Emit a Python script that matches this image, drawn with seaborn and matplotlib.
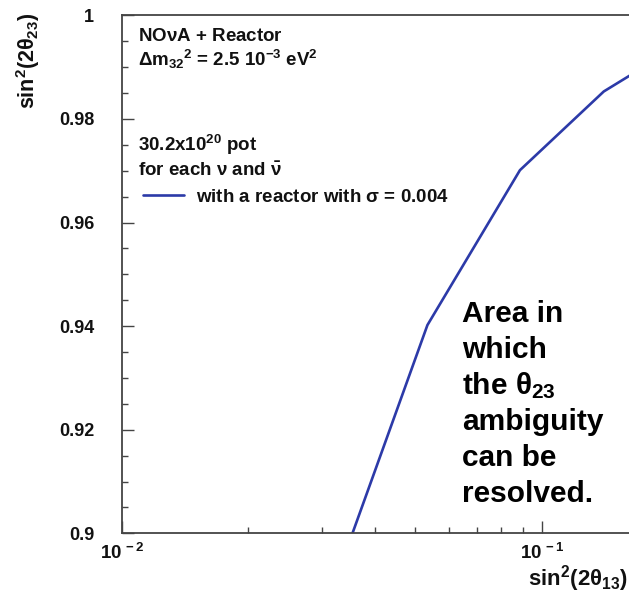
import pandas as pd
import seaborn as sns
import matplotlib
matplotlib.use('Agg')
import matplotlib.pyplot as plt
from matplotlib.ticker import MultipleLocator, LogLocator, NullFormatter

# values
sin2_2th13 = [0.0354, 0.0534, 0.0887, 0.1405, 0.163]
sin2_2th23 = [0.900, 0.9402, 0.9701, 0.9853, 0.9885]
y_ticks = [0.90, 0.92, 0.94, 0.96, 0.98, 1.00]
y_tick_labels = ['0.9', '0.92', '0.94', '0.96', '0.98', '1']
x_ticks = [0.01, 0.1]
x_tick_labels = ['$10^{\\,-2}$', '$10^{\\,-1}$']
info_lines = ['NO$\\nu$A + Reactor',
              '$\\Delta$m$_{32}$$^{2}$ = 2.5 10$^{-3}$ eV$^{2}$',
              '30.2x10$^{20}$ pot',
              'for each $\\nu$ and $\\bar{\\nu}$']
area_lines = ['Area in', 'which', 'the $\\theta_{23}$', 'ambiguity',
              'can be', 'resolved.']
legend_label = 'with a reactor with $\\sigma$ = 0.004'

W, H = 629, 595


def fx(px):
    """pixel x -> figure fraction"""
    return px / W


def fy(py):
    """pixel y (from top) -> figure fraction"""
    return 1 - py / H


sns.set_style('ticks')
plt.rcParams['font.family'] = ['Liberation Sans', 'DejaVu Sans']
plt.rcParams['font.weight'] = 'bold'
plt.rcParams['mathtext.fontset'] = 'custom'
plt.rcParams['mathtext.rm'] = 'Liberation Sans:bold'
plt.rcParams['mathtext.it'] = 'Liberation Sans:bold'
plt.rcParams['mathtext.bf'] = 'Liberation Sans:bold'
plt.rcParams['text.color'] = '#111111'

fig = plt.figure(figsize=(W / 100, H / 100), dpi=100)
ax = fig.add_axes([fx(122), fy(533.3), fx(W - 122) + 0.003, (533.3 - 15.3) / H])

df = pd.DataFrame({'x': sin2_2th13, 'y': sin2_2th23})
sns.lineplot(data=df, x='x', y='y', ax=ax, color='#2c3aa8', linewidth=1.9,
             label=legend_label, sort=False)

ax.set_xscale('log')
ax.set_xlim(0.01, 0.163)
ax.set_ylim(0.9, 1.0)
ax.set_xticks(x_ticks)
ax.set_xticklabels(x_tick_labels)
ax.xaxis.set_minor_locator(LogLocator(base=10, subs=range(2, 10)))
ax.xaxis.set_minor_formatter(NullFormatter())
ax.set_yticks(y_ticks)
ax.set_yticklabels(y_tick_labels)
ax.yaxis.set_minor_locator(MultipleLocator(0.005))
ax.set_xlabel('')
ax.set_ylabel('')

ax.tick_params(which='both', direction='in', color='#444444',
               labelcolor='#111111', labelsize=13, width=1.0)
ax.tick_params(which='major', length=8.5)
ax.tick_params(which='minor', length=4.5)
ax.tick_params(axis='y', pad=20)
ax.tick_params(axis='x', pad=7, labelsize=13.5)
for side in ['left', 'bottom', 'top']:
    ax.spines[side].set_color('#444444')
    ax.spines[side].set_linewidth(1.3)
    ax.spines[side].set_visible(True)
ax.spines['right'].set_visible(False)

ax.legend(loc='center left', bbox_to_anchor=(fx(143), fy(197)),
          bbox_transform=fig.transFigure, frameon=False, fontsize=13.5,
          handlelength=2.2, handletextpad=0.65, borderpad=0, borderaxespad=0)

# info block top left
for text, base in zip(info_lines, [40.6, 66, 150.7, 175.7]):
    fig.text(fx(138), fy(base), text, fontsize=13.5, va='baseline')

# big annotation
for i, text in enumerate(area_lines):
    fig.text(fx(462), fy(321.7 + 36 * i), text, fontsize=21.5,
             va='baseline', color='#000000')

# axis titles, ROOT style
fig.text(fx(28), fy(13), 'sin$^{2}$(2$\\theta_{23}$)', rotation=90,
         ha='center', va='top', fontsize=15.5)
fig.text(fx(528), fy(586), 'sin$^{2}$(2$\\theta_{13}$)', ha='left',
         va='baseline', fontsize=16)

fig.savefig('out.png', dpi=100)
